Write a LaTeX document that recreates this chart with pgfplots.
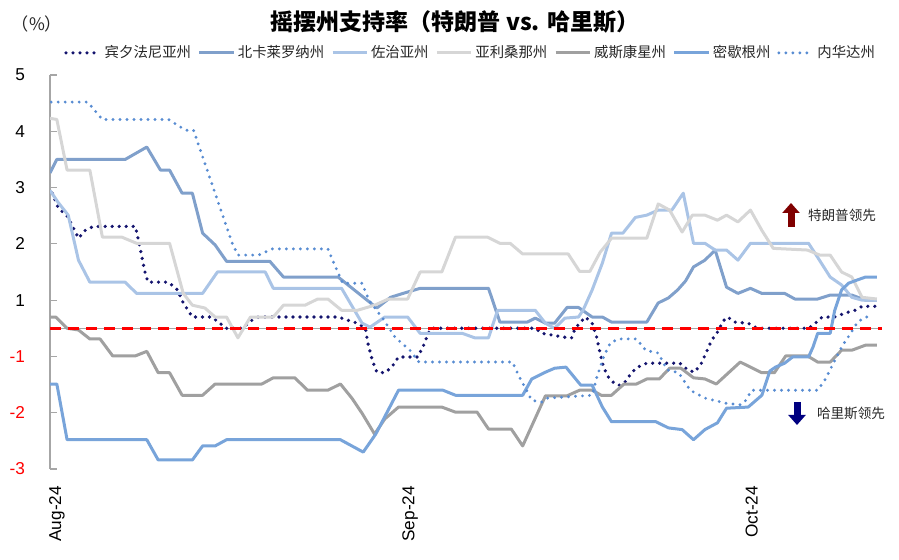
\documentclass[border=0pt]{standalone}
\usepackage{fontspec}
\setmainfont{Liberation Sans}
\newfontfamily\cjk{Noto Sans CJK SC}
\usepackage{pgfplots}
\pgfplotsset{compat=1.18}
\usetikzlibrary{arrows.meta}

\definecolor{paC}{RGB}{20,20,110}
\definecolor{ncC}{RGB}{128,160,203}
\definecolor{gaC}{RGB}{170,196,230}
\definecolor{azC}{RGB}{214,214,214}
\definecolor{wiC}{RGB}{160,160,160}
\definecolor{miC}{RGB}{120,164,218}
\definecolor{nvC}{RGB}{88,140,210}
\definecolor{axgray}{RGB}{166,166,166}
\definecolor{upred}{RGB}{128,0,0}
\definecolor{downblue}{RGB}{0,0,128}

\begin{document}
\begin{tikzpicture}
\useasboundingbox (0,0) rectangle (449.5pt,280pt);
\begin{axis}[
  at={(25pt,45.5pt)}, anchor=south west,
  scale only axis, width=416pt, height=197pt,
  xmin=0, xmax=73.05, ymin=-2, ymax=5,
  axis x line*=bottom, axis y line*=left,
  x axis line style={draw=none},
  y axis line style={draw=axgray, line width=0.6pt, -},
  xtick={0,31,61}, xticklabels={Aug-24,Sep-24,Oct-24},
  x tick style={draw=none},
  xticklabel style={xshift=3.5pt, yshift=-5pt, rotate=90, anchor=east,
    font=\fontsize{8.6}{9.5}\selectfont},
  ytick={-2,-1,0,1,2,3,4,5},
  yticklabels={\textcolor{red}{-3},\textcolor{red}{-2},\textcolor{red}{-1},1,2,3,4,5},
  yticklabel style={xshift=-9pt, font=\fontsize{8.6}{9.5}\selectfont},
  y tick style={draw=axgray, line width=0.6pt},
  tick align=inside, major tick length=3.5pt,
  legend columns=7,
  legend style={at={(0.506,1.056)}, anchor=center, draw=none, fill=none,
    inner sep=0pt, column sep=0pt,
    /tikz/every even column/.append style={column sep=2pt},
    nodes={inner sep=1.4pt, text=black!85},
    font=\cjk\fontsize{7.2}{8.5}\selectfont},
  line join=round,
]
\addplot[axgray, line width=0.5pt, forget plot] coordinates {(0,0.5) (73.05,0.5)};

\addplot[paC, line width=1.8pt, line cap=round, dash pattern=on 0pt off 3.5pt] coordinates {
(0.2,2.90) (0.7,2.65) (1.6,2.47) (2.5,2.10) (3.1,2.24) (3.8,2.31) (7.5,2.31) (7.9,1.94) (8.3,1.53) (8.6,1.32) (10.4,1.32) (11.2,1.18) (11.7,0.95) (12.5,0.70) (14.2,0.70) (14.9,0.59) (15.5,0.50) (16.9,0.50) (17.7,0.64) (18.3,0.70) (25.3,0.70) (26.2,0.64) (27.0,0.59) (27.7,0.50) (27.9,0.24) (28.3,-0.07) (28.7,-0.28) (29.4,-0.29) (30.0,-0.19) (30.6,-0.01) (32.3,-0.01) (32.9,0.24) (33.2,0.41) (33.5,0.50) (42.6,0.50) (43.2,0.41) (45.2,0.34) (45.8,0.33) (46.1,0.50) (47.0,0.70) (47.6,0.59) (48.0,0.34) (48.3,0.06) (48.6,-0.19) (49.0,-0.36) (49.6,-0.49) (50.0,-0.51) (50.5,-0.45) (51.1,-0.28) (51.6,-0.19) (52.4,-0.12) (55.3,-0.12) (56.0,-0.24) (56.6,-0.28) (57.2,-0.12) (57.7,0.11) (58.1,0.29) (58.6,0.43) (59.1,0.63) (59.5,0.70) (60.1,0.61) (61.3,0.59) (61.9,0.52) (62.5,0.50) (66.6,0.50) (67.2,0.59) (67.8,0.70) (68.9,0.70) (69.8,0.77) (70.7,0.82) (71.3,0.89) (72.6,0.89)};
\addlegendentry{宾夕法尼亚州}

\addplot[ncC, line width=1.5pt] coordinates {
(0,3.26) (0.6,3.50) (6.6,3.50) (8.5,3.72) (9.7,3.31) (10.5,3.31) (11.6,2.90) (12.5,2.90) (13.4,2.19) (14.5,1.98) (15.5,1.69) (19.3,1.69) (20.5,1.41) (25.3,1.41) (28.7,0.86) (29.9,1.05) (31.0,1.12) (32.5,1.21) (38.5,1.21) (39.5,0.61) (41.9,0.61) (42.6,0.68) (43.5,0.59) (44.3,0.59) (45.4,0.87) (46.4,0.87) (47.6,0.70) (48.5,0.70) (49.3,0.61) (52.4,0.61) (53.4,0.95) (54.3,1.04) (55.1,1.18) (55.8,1.34) (56.5,1.59) (57.5,1.71) (58.4,1.89) (59.4,1.23) (60.4,1.12) (61.5,1.21) (62.5,1.12) (64.5,1.12) (65.4,1.02) (67.4,1.02) (68.5,1.09) (70.4,1.09) (71.6,1.00) (72.6,1.00)};
\addlegendentry{北卡莱罗纳州}

\addplot[gaC, line width=1.5pt] coordinates {
(0,2.95) (0.7,2.74) (1.6,2.51) (2.5,1.71) (3.5,1.32) (6.6,1.32) (7.6,1.12) (13.4,1.12) (14.7,1.50) (18.9,1.50) (19.6,1.21) (25.6,1.21) (27.4,0.59) (28.1,0.52) (29.4,0.70) (31.4,0.70) (32.5,0.41) (36.2,0.41) (37.3,0.33) (38.5,0.33) (39.3,0.82) (42.6,0.82) (43.5,0.59) (44.3,0.50) (45.2,0.68) (46.4,0.70) (46.8,0.82) (47.6,1.18) (48.5,1.66) (49.3,2.19) (50.3,2.19) (51.4,2.47) (52.4,2.51) (53.4,2.60) (54.6,2.60) (55.6,2.90) (56.5,2.01) (57.5,2.01) (58.4,1.89) (59.4,1.89) (60.4,1.71) (61.5,2.01) (66.6,2.01) (67.4,1.76) (68.5,1.41) (69.5,1.27) (70.4,1.05) (71.3,1.00) (72.6,1.00)};
\addlegendentry{佐治亚州}

\addplot[azC, line width=1.5pt] coordinates {
(0,4.23) (0.6,4.21) (1.5,3.31) (3.5,3.31) (4.6,2.12) (6.3,2.12) (7.6,2.01) (10.5,2.01) (11.7,1.12) (12.5,0.91) (13.6,0.86) (14.5,0.70) (15.5,0.70) (16.5,0.33) (17.6,0.70) (19.6,0.70) (20.5,0.91) (22.4,0.91) (23.5,1.02) (24.4,1.02) (25.6,0.82) (27.0,0.82) (28.5,0.91) (29.7,1.02) (31.4,1.02) (32.5,1.50) (34.4,1.50) (35.6,2.12) (38.4,2.12) (39.5,2.01) (40.4,2.01) (41.5,1.82) (45.5,1.82) (46.5,1.51) (47.4,1.51) (48.3,1.85) (49.3,2.10) (52.4,2.10) (53.4,2.71) (54.4,2.60) (55.5,2.21) (56.4,2.51) (57.5,2.51) (58.6,2.42) (59.4,2.51) (60.4,2.39) (61.5,2.60) (62.5,2.24) (63.5,1.92) (66.5,1.89) (67.6,1.80) (68.5,1.80) (69.5,1.50) (70.4,1.41) (71.3,1.05) (72.6,1.02)};
\addlegendentry{亚利桑那州}

\addplot[wiC, line width=1.5pt] coordinates {
(0,0.70) (0.5,0.70) (1.5,0.50) (2.5,0.47) (3.5,0.31) (4.4,0.31) (5.5,0.01) (7.5,0.01) (8.5,0.09) (9.5,-0.29) (10.5,-0.29) (11.6,-0.69) (13.4,-0.69) (14.5,-0.49) (18.6,-0.49) (19.6,-0.38) (21.5,-0.38) (22.6,-0.60) (24.4,-0.60) (25.5,-0.49) (26.5,-0.74) (27.4,-1.01) (28.5,-1.38) (29.4,-1.11) (30.6,-0.90) (34.4,-0.90) (35.6,-0.99) (37.5,-0.99) (38.5,-1.29) (40.5,-1.29) (41.5,-1.59) (43.5,-0.70) (45.4,-0.70) (46.5,-0.60) (47.6,-0.60) (48.4,-0.69) (49.3,-0.69) (50.4,-0.49) (51.5,-0.49) (52.4,-0.40) (53.5,-0.40) (54.4,-0.21) (55.4,-0.21) (56.5,-0.38) (57.5,-0.40) (58.5,-0.49) (60.6,-0.10) (62.5,-0.29) (63.6,-0.29) (64.6,0.01) (66.5,0.01) (67.4,-0.10) (68.5,-0.10) (69.5,0.11) (70.4,0.11) (71.6,0.20) (72.6,0.20)};
\addlegendentry{威斯康星州}

\addplot[miC, line width=1.5pt] coordinates {
(0,-0.49) (0.6,-0.49) (1.5,-1.48) (8.5,-1.48) (9.5,-1.84) (12.5,-1.84) (13.4,-1.59) (14.5,-1.59) (15.5,-1.48) (25.5,-1.48) (27.5,-1.70) (28.6,-1.38) (30.6,-0.60) (34.5,-0.60) (35.6,-0.69) (41.5,-0.69) (42.3,-0.40) (43.5,-0.28) (44.3,-0.21) (45.3,-0.19) (46.6,-0.51) (47.6,-0.51) (48.5,-0.90) (49.3,-1.16) (53.2,-1.16) (54.3,-1.27) (55.5,-1.30) (56.5,-1.48) (57.5,-1.30) (58.6,-1.18) (59.4,-0.92) (61.3,-0.90) (62.5,-0.69) (63.2,-0.26) (63.7,-0.19) (64.5,-0.12) (65.2,-0.01) (66.6,-0.01) (67.0,0.17) (67.4,0.41) (68.5,0.41) (68.9,0.82) (69.5,1.18) (70.1,1.30) (70.9,1.36) (71.6,1.41) (72.6,1.41)};
\addlegendentry{密歇根州}

\addplot[nvC, line width=1.6pt, line cap=round, dash pattern=on 0pt off 3.5pt] coordinates {
(0.1,4.52) (3.3,4.52) (4.6,4.21) (10.4,4.21) (11.9,4.02) (12.6,4.02) (13.6,3.43) (14.8,2.72) (16.0,2.01) (16.5,1.80) (18.3,1.80) (19.5,1.91) (24.4,1.91) (25.2,1.53) (25.7,1.30) (27.4,1.30) (28.0,1.00) (29.2,0.68) (30.3,0.34) (31.6,0.11) (32.4,-0.10) (40.6,-0.10) (41.2,-0.36) (42.3,-0.78) (43.2,-0.81) (43.7,-0.74) (47.6,-0.69) (48.0,-0.38) (48.6,-0.01) (49.2,0.24) (49.9,0.31) (51.5,0.31) (52.3,0.11) (53.4,0.06) (54.2,-0.24) (55.2,-0.29) (56.2,-0.60) (57.5,-0.74) (59.3,-0.83) (60.6,-0.86) (61.1,-0.78) (61.6,-0.60) (67.4,-0.60) (68.1,-0.40) (69.0,-0.03) (69.6,0.20) (70.2,0.38) (70.9,0.61) (71.6,0.70) (72.2,0.70)};
\addlegendentry{内华达州}

\addplot[red, line width=1.5pt, dash pattern=on 5.5pt off 3.5pt, forget plot] coordinates {(0,0.5) (73.05,0.5)};
\end{axis}

\node[font=\cjk\bfseries\fontsize{11.5}{13}\selectfont] at (227.5pt,269pt) {摇摆州支持率（特朗普 vs. 哈里斯）};
\node[font=\cjk\fontsize{8.6}{10}\selectfont, text=black!85] at (18.5pt,268pt) {（\%）};

\draw[upred, line width=3.5pt, -{Triangle[width=8.5pt,length=5pt]}] (395.5pt,166.5pt) -- (395.5pt,178.5pt);
\node[font=\cjk\fontsize{6.8}{8}\selectfont, text=black!85] at (421pt,172.5pt) {特朗普领先};
\draw[downblue, line width=3.5pt, -{Triangle[width=8.5pt,length=5pt]}] (398.5pt,79pt) -- (398.5pt,67.5pt);
\node[font=\cjk\fontsize{6.8}{8}\selectfont, text=black!85] at (425.5pt,73.5pt) {哈里斯领先};
\end{tikzpicture}
\end{document}
